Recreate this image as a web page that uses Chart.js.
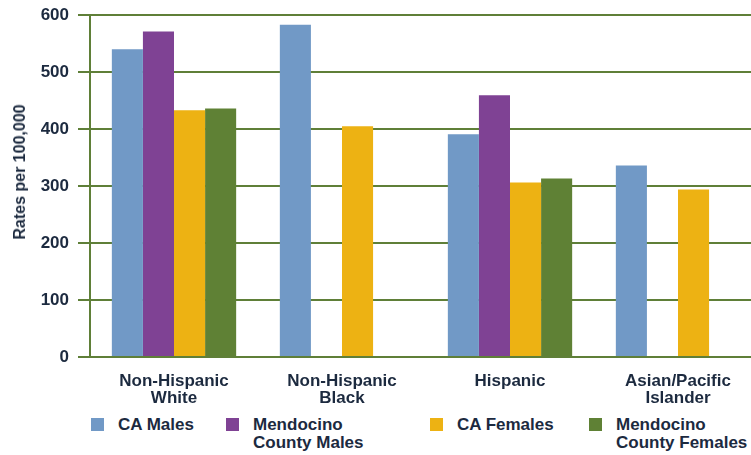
<!DOCTYPE html>
<html lang="en">
<head>
  <meta charset="UTF-8" />
  <title>Rates per 100,000</title>
  <script src="https://cdn.jsdelivr.net/npm/chart.js"></script>
  <style>
    body { margin: 0; width: 751px; height: 455px; overflow: hidden; background: #fff; font-family: "Liberation Sans", Arial, sans-serif; }
    #wrap { position: relative; width: 751px; height: 455px; overflow: hidden; }
    #box { position: absolute; left: 0; top: 0; width: 762px; height: 411px; }
    #ytitle { position: absolute; left: 20px; top: 172px; transform: translate(-50%, -50%) rotate(-90deg); white-space: nowrap;
              font-weight: bold; font-size: 16px; color: #1c2a3f; }
    .lg { position: absolute; top: 416px; font-weight: bold; font-size: 17px; line-height: 18px; color: #1c2a3f; }
    .lg i { position: absolute; left: 0; top: 2px; width: 13px; height: 13px; }
    .lg span { display: block; margin-left: 27px; }
  </style>
</head>
<body>
<div id="wrap">
  <div id="box"><canvas id="c"></canvas></div>
  <div id="ytitle">Rates per 100,000</div>
  <div id="legend"></div>
</div>
<script>
  // data
  const groups = [['Non-Hispanic', 'White'], ['Non-Hispanic', 'Black'], ['Hispanic'], ['Asian/Pacific', 'Islander']];
  const seriesNames = ['CA Males', 'Mendocino County Males', 'CA Females', 'Mendocino County Females'];
  const caMales = [540, 583, 391, 336];
  const mendoMales = [571, null, 459, null];
  const caFemales = [433, 405, 306, 294];
  const mendoFemales = [436, null, 313, null];
  const yTicks = [0, 100, 200, 300, 400, 500, 600];

  const colors = ['#7199c6', '#7f4294', '#edb213', '#5f8135'];
  const values = [caMales, mendoMales, caFemales, mendoFemales];
  const ink = '#1c2a3f';
  const green = '#5f7f38';

  new Chart(document.getElementById('c'), {
    type: 'bar',
    data: {
      labels: groups,
      datasets: values.map((v, i) => ({
        label: seriesNames[i],
        data: v,
        backgroundColor: colors[i],
        borderWidth: 0
      }))
    },
    options: {
      responsive: true,
      maintainAspectRatio: false,
      animation: false,
      layout: { padding: { top: 15, left: 0, right: 0, bottom: 0 } },
      plugins: { legend: { display: false }, tooltip: { enabled: false } },
      datasets: { bar: { categoryPercentage: 0.74, barPercentage: 1 } },
      scales: {
        x: {
          grid: { display: false },
          border: { color: green, width: 2 },
          ticks: { color: ink, padding: 7, maxRotation: 0, font: { family: 'Liberation Sans', size: 17, weight: 'bold', lineHeight: 1.05 } },
          afterFit: s => { s.height = 54; s.paddingLeft = 0; s.paddingRight = 0; }
        },
        y: {
          min: 0, max: 600,
          afterBuildTicks: s => { s.ticks = yTicks.map(v => ({ value: v })); },
          grid: { color: green, lineWidth: 2, tickLength: 12, drawTicks: true },
          border: { color: green, width: 2 },
          ticks: { color: ink, padding: 9, font: { family: 'Liberation Sans', size: 17, weight: 'bold' } },
          afterFit: s => { s.width = 90; s.paddingTop = 0; s.paddingBottom = 0; }
        }
      }
    }
  });

  // HTML legend laid out like the reference
  const legendX = [91, 226, 430, 589];
  const legendText = [['CA Males'], ['Mendocino', 'County Males'], ['CA Females'], ['Mendocino', 'County Females']];
  const legend = document.getElementById('legend');
  legendText.forEach((lines, i) => {
    const d = document.createElement('div');
    d.className = 'lg';
    d.style.left = legendX[i] + 'px';
    d.innerHTML = '<i style="background:' + colors[i] + '"></i><span>' + lines.join('<br>') + '</span>';
    legend.appendChild(d);
  });
</script>
</body>
</html>
